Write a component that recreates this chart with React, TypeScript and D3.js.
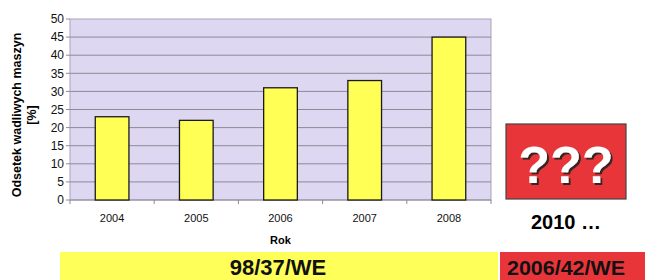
import React from 'react';
import * as d3 from 'd3';

const years = ['2004', '2005', '2006', '2007', '2008'];
const values = [23, 22, 31, 33, 45];
const yTicks = [0, 5, 10, 15, 20, 25, 30, 35, 40, 45, 50];

const W = 645;
const H = 280;
const plot = { left: 70, right: 491, top: 19, bottom: 200 };
const font = 'Arial, "Liberation Sans", sans-serif';

const App = () => {
  const x = d3
    .scaleBand()
    .domain(years)
    .range([plot.left, plot.right])
    .paddingInner(0.6)
    .paddingOuter(0.3);

  const y = d3.scaleLinear().domain([0, 50]).range([plot.bottom, plot.top]);

  const step = (plot.right - plot.left) / years.length;

  return (
    <svg
      width={W}
      height={H}
      style={{ position: 'absolute', left: 0, top: 0, background: 'white' }}
      fontFamily={font}
    >
      <defs>
        <filter id="shadow" x="-20%" y="-20%" width="140%" height="140%">
          <feDropShadow dx={2} dy={2} stdDeviation={0.6} floodColor="#222" floodOpacity={0.9} />
        </filter>
      </defs>
      {/* plot area */}
      <rect
        x={plot.left}
        y={plot.top}
        width={plot.right - plot.left}
        height={plot.bottom - plot.top}
        fill="#ddd7f1"
        stroke="#a9a3b9"
      />
      {yTicks.map((t) => (
        <g key={t}>
          {t > 0 && t < 50 && (
            <line x1={plot.left} x2={plot.right} y1={y(t)} y2={y(t)} stroke="#8d8a98" strokeWidth={1} />
          )}
          <line x1={plot.left - 4} x2={plot.left} y1={y(t)} y2={y(t)} stroke="#8d8a98" />
          <text x={plot.left - 6} y={y(t)} dy="0.35em" textAnchor="end" fontSize={12} fill="#111">
            {t}
          </text>
        </g>
      ))}
      {/* x axis */}
      <line x1={plot.left} x2={plot.right} y1={plot.bottom} y2={plot.bottom} stroke="#8d8a98" />
      {d3.range(years.length + 1).map((i) => (
        <line
          key={i}
          x1={plot.left + i * step}
          x2={plot.left + i * step}
          y1={plot.bottom}
          y2={plot.bottom + 4}
          stroke="#8d8a98"
        />
      ))}
      {/* bars */}
      {years.map((yr, i) => (
        <rect
          key={yr}
          x={x(yr)}
          y={y(values[i])}
          width={x.bandwidth()}
          height={y(0) - y(values[i])}
          fill="#ffff55"
          stroke="#1a1a1a"
          strokeWidth={1.3}
        />
      ))}
      {years.map((yr) => (
        <text
          key={yr}
          x={(x(yr) as number) + x.bandwidth() / 2}
          y={222}
          textAnchor="middle"
          fontSize={11}
          fill="#111"
        >
          {yr}
        </text>
      ))}
      <text x={(plot.left + plot.right) / 2} y={244} textAnchor="middle" fontSize={11} fontWeight="bold">
        Rok
      </text>
      {/* y axis title */}
      <g transform="translate(21,115) rotate(-90)">
        <text x={0} y={0} textAnchor="middle" fontSize={12.5} fontWeight="bold">
          Odsetek wadliwych maszyn
        </text>
        <text x={0} y={15} textAnchor="middle" fontSize={12.5} fontWeight="bold">
          [%]
        </text>
      </g>
      {/* red question box */}
      <rect x={506} y={124} width={120} height={75} fill="#e8353a" stroke="#444" strokeWidth={1.2} />
      <text
        x={566}
        y={183}
        textAnchor="middle"
        fontSize={52}
        fontWeight="bold"
        fill="white"
        filter="url(#shadow)"
      >
        ???
      </text>
      <text x={566} y={229} textAnchor="middle" fontSize={20} fontWeight="bold">
        2010 …
      </text>
      {/* directive bands */}
      <rect x={60} y={252} width={438} height={28} fill="#ffff5a" />
      <text x={278} y={275} textAnchor="middle" fontSize={22} fontWeight="bold" fill="#111">
        98/37/WE
      </text>
      <rect x={500} y={252} width={145} height={28} fill="#e8353a" />
      <text
        x={566}
        y={275}
        textAnchor="middle"
        fontSize={20}
        fontWeight="bold"
        fill="#111"
        textLength={118}
        lengthAdjust="spacingAndGlyphs"
      >
        2006/42/WE
      </text>
    </svg>
  );
};

export default App;
